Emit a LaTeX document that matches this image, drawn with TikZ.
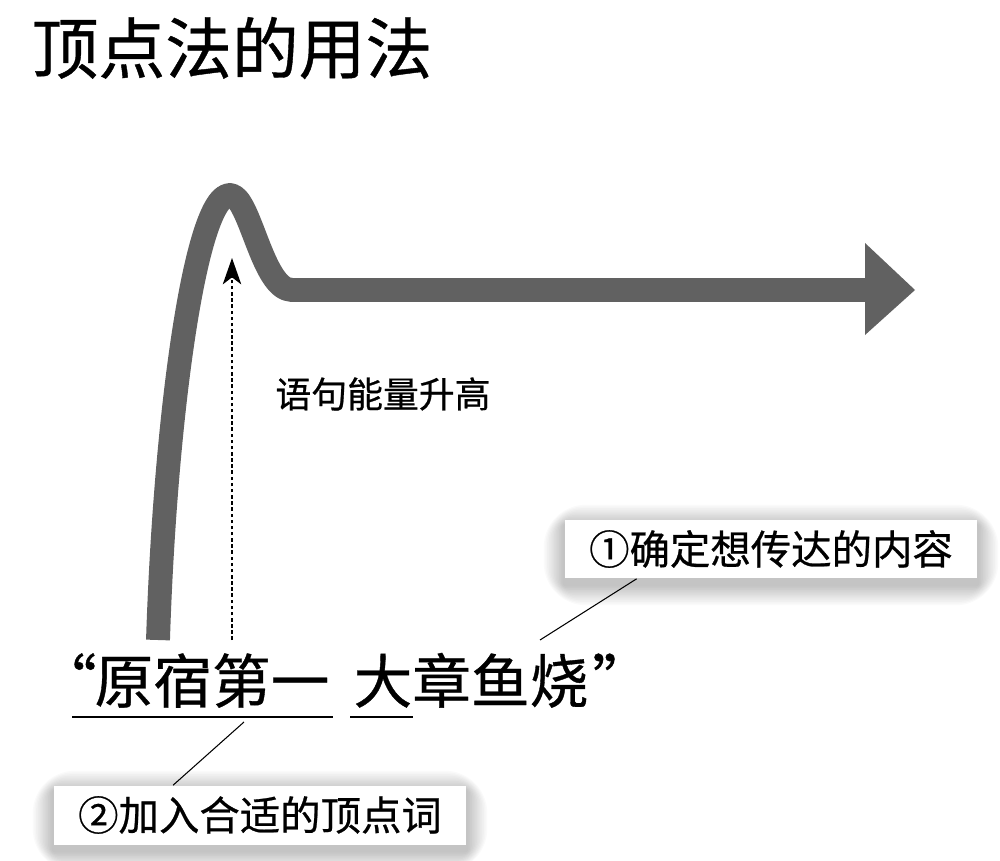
\documentclass[tikz,border=0pt]{standalone}
\usepackage{fontspec}
\setmainfont[FakeBold=0.6]{Noto Sans CJK SC}
\usetikzlibrary{arrows.meta,calc,backgrounds}
\definecolor{bargray}{RGB}{97,97,97}
\begin{document}
\begin{tikzpicture}[x=0.02cm,y=-0.02cm,
  titletext/.style={font=\fontsize{38}{44}\selectfont, inner sep=0},
  bigtext/.style={font=\fontsize{33.4}{40}\selectfont, inner sep=0},
  lbltext/.style={font=\fontsize{20.4}{24}\selectfont, inner sep=0},
  callout/.style={fill=white, font=\fontsize{23}{27}\selectfont, inner sep=0,
    minimum width=8.26cm, minimum height=1.18cm},
  bar/.style={draw=bargray, line width=13.6pt, line join=round},
  dotarrow/.style={line width=0.8pt, dash pattern=on 2pt off 1.5pt,
    -{Stealth[length=15pt,width=10.5pt,inset=4pt]}},
  uline/.style={line width=1.1pt},
  leader/.style={line width=0.6pt}]
\useasboundingbox (0,0) rectangle (1000,861);

% thick curve and arrowhead
\draw[bar] (158,640) .. controls (165,420) and (195,195) .. (230,195)
  .. controls (250,195) and (262,290) .. (292,290) -- (868,290);
\fill[bargray] (865,243) -- (865,335) -- (915,290) -- cycle;

% dotted arrow
\coordinate (dbot) at (232,640);
\coordinate (dtop) at (232,258);
\draw[dotarrow] (dbot) -- (dtop);

% texts
\node[titletext] (title) at (232,48) {顶点法的用法};
\node[lbltext] (lbl) at (383,394) {语句能量升高};
\node[bigtext, anchor=base east] (qo) at (97,703) {“};
\node[bigtext, anchor=base] (p1) at (212,703) {原宿第一};
\node[bigtext, anchor=base] (p2) at (471,703) {大章鱼烧};
\node[bigtext, anchor=base west] (qc) at (592,703) {”};
\draw[uline] (72,717) -- (333,717);
\draw[uline] (350,717) -- (413,717);

% callouts
\node[callout] (c1) at (771,549) {①确定想传达的内容};
\node[callout] (c2) at (260,815) {②加入合适的顶点词};
\coordinate (t1) at (540,640);
\coordinate (t2) at (244,722);
\draw[leader] ($(c1.south west)!0.175!(c1.south east)$) -- (t1);
\draw[leader] ($(c2.north west)!0.29!(c2.north east)$) -- (t2);

\begin{pgfonlayer}{background}
  \fill[white] (0,0) rectangle (1000,861);
  \foreach \n in {c1,c2}{
    \foreach \i in {1,...,12}{
      \fill[black, opacity=0.02, rounded corners=2*\i]
        ([shift={(-1.7*\i,1.7*\i+6)}]\n.south west) rectangle
        ([shift={(1.7*\i,-1.7*\i+6)}]\n.north east);
    }
  }
\end{pgfonlayer}
\end{tikzpicture}
\end{document}
